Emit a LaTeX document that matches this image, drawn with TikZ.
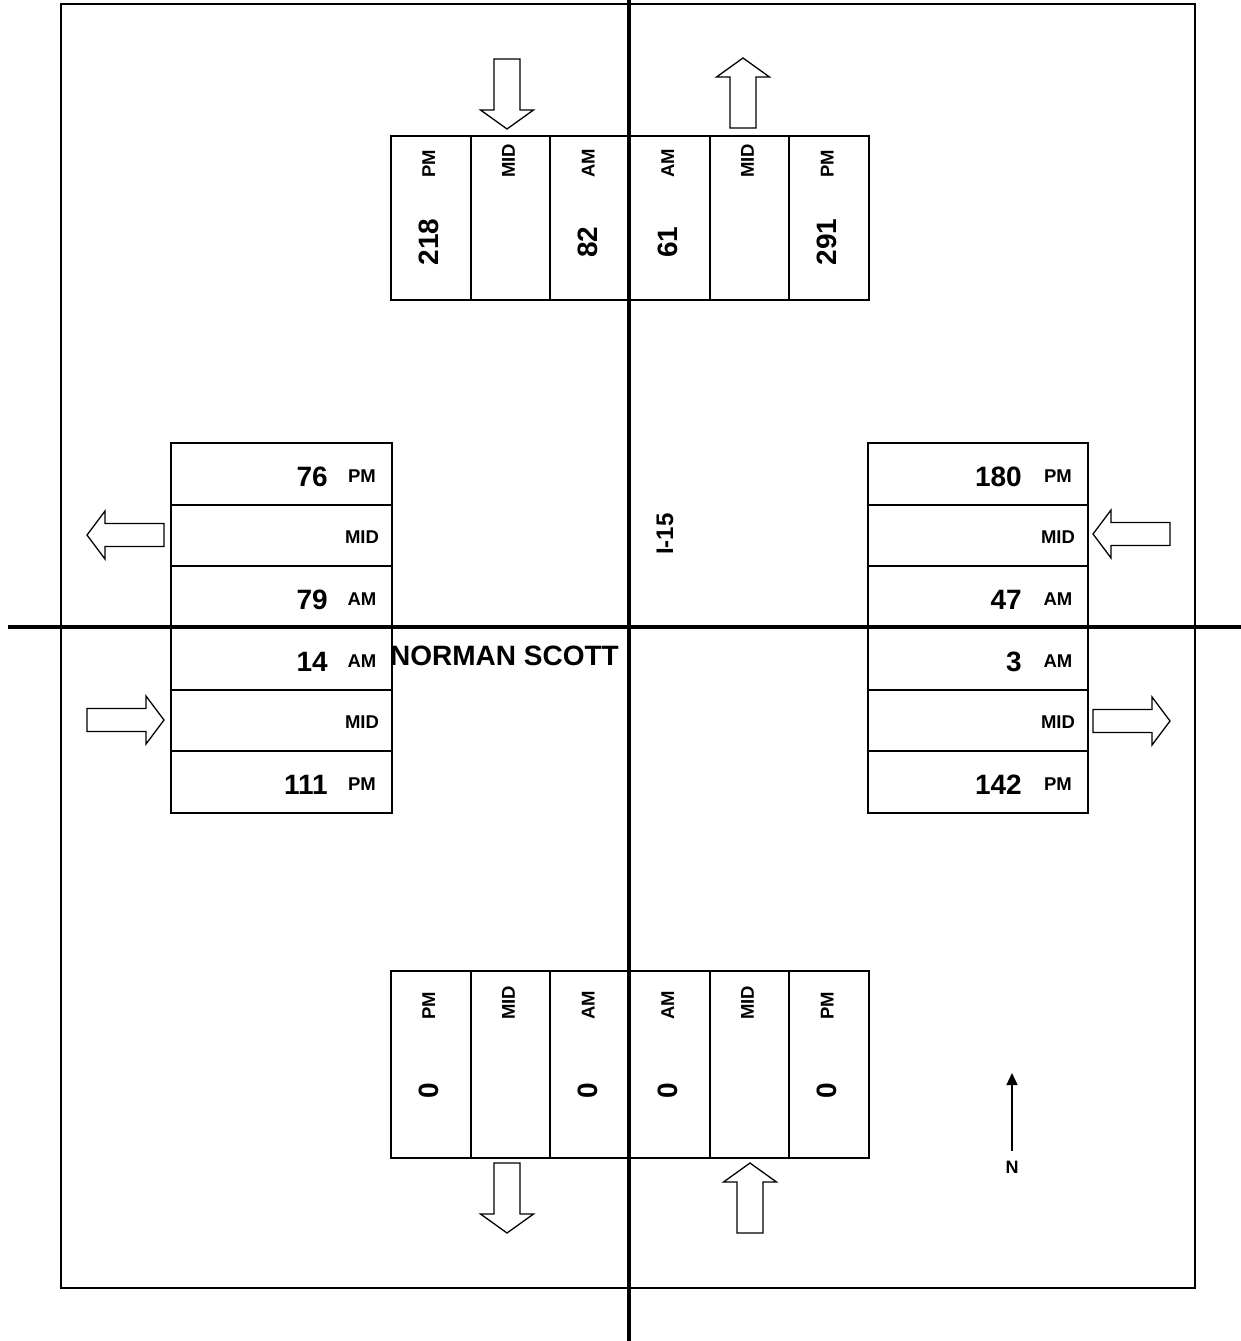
\documentclass[tikz,border=0pt]{standalone}
\usepackage{fontspec}
\setmainfont{Liberation Sans}
\usetikzlibrary{arrows.meta,positioning,calc}
\tikzset{
  vcell/.style={draw,line width=2pt,minimum width=79.67pt,inner sep=0pt,anchor=north west},
  hcell/.style={draw,line width=2pt,minimum height=61.67pt,inner sep=0pt,anchor=north west},
  vlabel/.style={rotate=90,anchor=west,inner sep=0pt,font=\fontsize{18.5}{20}\selectfont\bfseries},
  vnum/.style={rotate=90,inner sep=0pt,font=\fontsize{28}{30}\selectfont\bfseries},
  hlabel/.style={inner sep=0pt,font=\fontsize{18.5}{20}\selectfont\bfseries},
  hnum/.style={anchor=east,inner sep=0pt,font=\fontsize{28}{30}\selectfont\bfseries},
  road/.style={line width=4.5pt},
  flow outline/.style={draw,fill=white,line width=1.3pt,line join=miter},
  vflow/.pic={\draw[flow outline] (0,-13) -- (51,-13) -- (51,-26.5) -- (70,0) -- (51,26.5) -- (51,13) -- (0,13) -- cycle;},
  hflow/.pic={\draw[flow outline] (0,-11.5) -- (59,-11.5) -- (59,-24) -- (77,0) -- (59,24) -- (59,11.5) -- (0,11.5) -- cycle;},
  north arrow/.style={-{Triangle[length=12pt,width=11pt]},line width=1.5pt}
}
\begin{document}
\begin{tikzpicture}[x=1pt,y=-1pt]
  \useasboundingbox (0,0) rectangle (1241,1341);
  \draw[line width=2.2pt] (61,4) rectangle (1195,1288);
  \foreach \i/\lab/\num in {1/PM/218,2/MID/{},3/AM/82,4/AM/61,5/MID/{},6/PM/291} {
    \node[vcell,minimum height=164pt] (top\i) at ({390+(\i-1)*79.67},135) {};
    \node[vlabel] (top\i lab) at ($(top\i.north)+(-2,43)$) {\lab};
    \node[vnum] (top\i num) at ($(top\i.north)+(-2,107)$) {\num};
  }
  \foreach \i/\lab/\num in {1/PM/0,2/MID/{},3/AM/0,4/AM/0,5/MID/{},6/PM/0} {
    \node[vcell,minimum height=187pt] (bot\i) at ({390+(\i-1)*79.67},970) {};
    \node[vlabel] (bot\i lab) at ($(bot\i.north)+(-2,50)$) {\lab};
    \node[vnum] (bot\i num) at ($(bot\i.north)+(-2,121)$) {\num};
  }
  \foreach \i/\lab/\num in {1/PM/76,2/MID/{},3/AM/79,4/AM/14,5/MID/{},6/PM/111} {
    \node[hcell,minimum width=221pt] (west\i) at (170,{442+(\i-1)*61.67}) {};
    \node[hnum] (west\i num) at ($(west\i.west)+(158,3)$) {\num};
    \node[hlabel] (west\i lab) at ($(west\i.west)+(192,2)$) {\lab};
  }
  \foreach \i/\lab/\num in {1/PM/180,2/MID/{},3/AM/47,4/AM/3,5/MID/{},6/PM/142} {
    \node[hcell,minimum width=220pt] (east\i) at (867,{442+(\i-1)*61.67}) {};
    \node[hnum] (east\i num) at ($(east\i.west)+(155,3)$) {\num};
    \node[hlabel] (east\i lab) at ($(east\i.west)+(191,2)$) {\lab};
  }
  \draw[road] (629,0) -- (629,1341);
  \draw[road] (8,627) -- (1241,627);
  \pic[rotate=-90] at (507,59) {vflow};
  \pic[rotate=90] at (743,128) {vflow};
  \pic[rotate=-90] at (507,1163) {vflow};
  \pic[rotate=90] at (750,1233) {vflow};
  \pic[rotate=180] at (164,535) {hflow};
  \pic at (87,720) {hflow};
  \pic[rotate=180] at (1170,534) {hflow};
  \pic at (1093,721) {hflow};
  \node[rotate=90,inner sep=0pt,font=\fontsize{24}{26}\selectfont\bfseries] (freeway) at (665,534) {I-15};
  \node[anchor=west,inner sep=0pt,font=\fontsize{28}{30}\selectfont\bfseries] (street) at (390,656) {NORMAN SCOTT};
  \node[inner sep=0pt,font=\fontsize{18}{20}\selectfont\bfseries] (northlab) at (1012,1167) {N};
  \coordinate (northtail) at (1012,1151);
  \coordinate (northtip) at (1012,1073);
  \draw[north arrow] (northtail) -- (northtip);
\end{tikzpicture}
\end{document}
